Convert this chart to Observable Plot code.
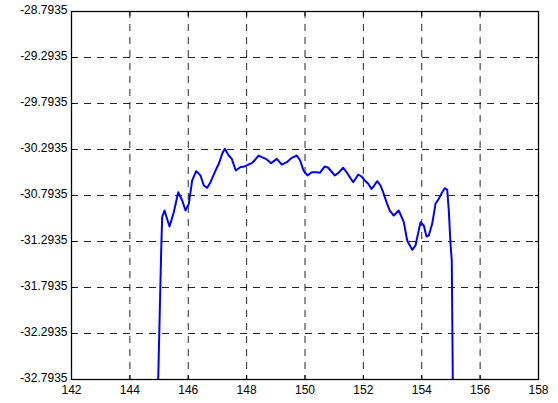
<!DOCTYPE html>
<html>
<head>
<meta charset="utf-8">
<script src="https://cdn.jsdelivr.net/npm/d3@7"></script>
<script src="https://cdn.jsdelivr.net/npm/@observablehq/plot@0.6"></script>
<style>
  html, body { margin: 0; padding: 0; background: #fff; }
</style>
</head>
<body>
<div id="chart"></div>
<script>
const xTicks = [142, 144, 146, 148, 150, 152, 154, 156, 158];
const yTicks = [-32.7935, -32.2935, -31.7935, -31.2935, -30.7935, -30.2935, -29.7935, -29.2935, -28.7935];
const yTickLabels = ["-32.7935", "-32.2935", "-31.7935", "-31.2935", "-30.7935", "-30.2935", "-29.7935", "-29.2935", "-28.7935"];

const xs = [144.970, 145.073, 145.107, 145.186, 145.358, 145.505, 145.656, 145.793, 145.906, 146.019,
  146.135, 146.272, 146.420, 146.533, 146.649, 146.762, 146.934, 147.047, 147.163, 147.252,
  147.389, 147.492, 147.629, 147.780, 147.951, 148.064, 148.177, 148.294, 148.407, 148.520,
  148.657, 148.842, 149.034, 149.205, 149.376, 149.548, 149.719, 149.835, 149.949, 150.086,
  150.233, 150.394, 150.507, 150.678, 150.795, 151.021, 151.138, 151.309, 151.422, 151.652,
  151.823, 151.936, 152.049, 152.165, 152.279, 152.371, 152.474, 152.587, 152.679, 152.792,
  152.905, 153.042, 153.214, 153.385, 153.501, 153.673, 153.786, 153.957, 154.070, 154.163,
  154.241, 154.358, 154.471, 154.584, 154.701, 154.790, 154.872, 154.927, 154.985, 155.029,
  155.064];
const ys = [-32.800, -31.391, -31.029, -30.957, -31.130, -30.975, -30.758, -30.848, -30.957, -30.884,
  -30.630, -30.529, -30.576, -30.685, -30.710, -30.649, -30.522, -30.449, -30.340, -30.286,
  -30.359, -30.395, -30.522, -30.486, -30.475, -30.457, -30.442, -30.405, -30.359, -30.377,
  -30.395, -30.442, -30.395, -30.457, -30.431, -30.384, -30.359, -30.413, -30.522, -30.576,
  -30.540, -30.540, -30.547, -30.478, -30.492, -30.576, -30.551, -30.492, -30.540, -30.649,
  -30.565, -30.587, -30.630, -30.666, -30.721, -30.685, -30.638, -30.685, -30.758, -30.866,
  -30.957, -31.011, -30.957, -31.084, -31.283, -31.384, -31.337, -31.084, -31.120, -31.239,
  -31.228, -31.101, -30.884, -30.829, -30.758, -30.714, -30.731, -30.957, -31.318, -31.500,
  -32.800];

const data = xs.map((x, i) => ({x, y: ys[i]}));
const labelOf = new Map(yTicks.map((t, i) => [t, yTickLabels[i]]));

const chart = Plot.plot({
  width: 558,
  height: 403,
  marginLeft: 71,
  marginRight: 20,
  marginTop: 11,
  marginBottom: 24,
  style: {
    fontFamily: "Arial, 'Liberation Sans', Helvetica, sans-serif",
    fontSize: "12px",
    color: "#000",
    background: "#fff",
    overflow: "visible"
  },
  x: {domain: [142, 158]},
  y: {domain: [-32.7935, -28.7935]},
  marks: [
    Plot.gridX(xTicks, {stroke: "#000", strokeOpacity: 0.85, strokeWidth: 1, strokeDasharray: "7,6"}),
    Plot.gridY(yTicks, {stroke: "#000", strokeOpacity: 0.85, strokeWidth: 1, strokeDasharray: "7,6"}),
    Plot.axisX(xTicks, {anchor: "bottom", tickSize: 0, tickPadding: 6, tickFormat: d => String(d), label: null, fill: "#000"}),
    Plot.axisY(yTicks, {anchor: "left", tickSize: 0, tickPadding: 4, dy: -1, tickFormat: d => labelOf.get(d), label: null, fill: "#000"}),
    Plot.axisX(xTicks, {anchor: "bottom", tickSize: -4, tickFormat: () => "", label: null}),
    Plot.axisX(xTicks, {anchor: "top", tickSize: -4, tickFormat: () => "", label: null}),
    Plot.axisY(yTicks, {anchor: "left", tickSize: -4, tickFormat: () => "", label: null}),
    Plot.axisY(yTicks, {anchor: "right", tickSize: -4, tickFormat: () => "", label: null}),
    Plot.line(data, {x: "x", y: "y", stroke: "#0000ff", strokeWidth: 2, clip: true}),
    Plot.frame({stroke: "#000", strokeWidth: 1.3})
  ]
});
document.getElementById("chart").append(chart);
</script>
</body>
</html>
